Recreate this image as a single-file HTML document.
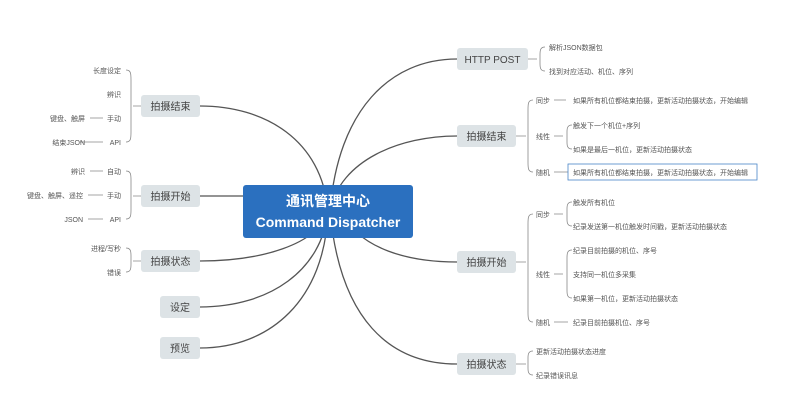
<!DOCTYPE html>
<html><head><meta charset="utf-8"><style>
body{margin:0;background:#fff;}
svg{display:block;font-family:"Liberation Sans","Noto Sans CJK SC",sans-serif;}
.s{font-size:7px;fill:#555;}
.n{font-size:10px;fill:#444;}
</style></head><body>
<svg width="799" height="417" viewBox="0 0 799 417">
<g fill="none" stroke="#555" stroke-width="1.3">
<path d="M328,211 C322,140 265,106 200,106"/>
<path d="M243,196 L200,196"/>
<path d="M328,211 C318,245 260,261 200,261"/>
<path d="M328,211 C322,270 270,307 200,307"/>
<path d="M328,211 C325,300 270,348 200,348"/>
<path d="M330,211 C338,110 390,59 457,59"/>
<path d="M330,211 C340,160 400,136 457,136"/>
<path d="M340,211 C360,250 410,262 457,262"/>
<path d="M330,211 C340,320 390,364 457,364"/>
</g>
<g fill="none" stroke="#888" stroke-width="0.8">
<path d="M141,106 H133 M126,70 C131,70 131,74 131,80 V132 C131,138 131,142 126,142"/>
<path d="M141,196 H133 M126,171 C131,171 131,175 131,180 V210 C131,215 131,219 126,219"/>
<path d="M141,261 H133 M126,248 C131,248 131,252 131,256 V264 C131,268 131,272 126,272"/>
<path d="M90,118 H103 M80,142 H103 M90,171 H103 M88,195 H103 M88,219 H103"/>
<path d="M528,59 H537 M545,47 C540,47 540,51 540,55 V63 C540,67 540,71 545,71"/>
<path d="M516,136 H526 M533,100 C528,100 528,104 528,110 V162 C528,168 528,172 533,172"/>
<path d="M554,100 H566 M554,136 H563 M572,125 C567,125 567,129 567,132 V142 C567,145 567,149 572,149 M554,172 H568"/>
<path d="M516,262 H526 M533,214 C528,214 528,218 528,224 V312 C528,318 528,322 533,322"/>
<path d="M554,214 H563 M572,202 C567,202 567,206 567,209 V219 C567,222 567,226 572,226"/>
<path d="M554,274 H563 M572,250 C567,250 567,254 567,258 V290 C567,294 567,298 572,298 M554,322 H568"/>
<path d="M516,364 H526 M533,351 C528,351 528,355 528,358 V368 C528,371 528,375 533,375"/>
</g>
<rect x="243" y="185" width="170" height="53" rx="3" fill="#2b70bf"/>
<text x="328" y="206" text-anchor="middle" font-size="14" font-weight="bold" fill="#fff">通讯管理中心</text>
<text x="328" y="227" text-anchor="middle" font-size="14" font-weight="bold" fill="#fff">Command Dispatcher</text>
<g fill="#dde3e6">
<rect x="141" y="95" width="59" height="22" rx="3"/>
<rect x="141" y="185" width="59" height="22" rx="3"/>
<rect x="141" y="250" width="59" height="22" rx="3"/>
<rect x="160" y="296" width="40" height="22" rx="3"/>
<rect x="160" y="337" width="40" height="22" rx="3"/>
<rect x="457" y="48" width="71" height="22" rx="3"/>
<rect x="457" y="125" width="59" height="22" rx="3"/>
<rect x="457" y="251" width="59" height="22" rx="3"/>
<rect x="457" y="353" width="59" height="22" rx="3"/>
</g>
<g class="n" text-anchor="middle">
<text x="170.5" y="110">拍摄结束</text>
<text x="170.5" y="200">拍摄开始</text>
<text x="170.5" y="265">拍摄状态</text>
<text x="180" y="311">设定</text>
<text x="180" y="352">预览</text>
<text x="492.5" y="63">HTTP POST</text>
<text x="486.5" y="140">拍摄结束</text>
<text x="486.5" y="266">拍摄开始</text>
<text x="486.5" y="368">拍摄状态</text>
</g>
<g class="s" text-anchor="end">
<text x="121" y="73">长度设定</text>
<text x="121" y="97">辨识</text>
<text x="121" y="121">手动</text>
<text x="121" y="145">API</text>
<text x="85" y="121">键盘、触屏</text>
<text x="85" y="145">结束JSON</text>
<text x="121" y="174">自动</text>
<text x="121" y="198">手动</text>
<text x="121" y="222">API</text>
<text x="85" y="174">辨识</text>
<text x="83" y="198">键盘、触屏、遥控</text>
<text x="83" y="222">JSON</text>
<text x="121" y="251">进程/写秒</text>
<text x="121" y="275">错误</text>
</g>
<g class="s">
<text x="549" y="50">解析JSON数据包</text>
<text x="549" y="74">找到对应活动、机位、序列</text>
<text x="536" y="103">同步</text>
<text x="536" y="139">线性</text>
<text x="536" y="175">随机</text>
<text x="573" y="103">如果所有机位都结束拍摄，更新活动拍摄状态，开始编辑</text>
<text x="573" y="128">触发下一个机位+序列</text>
<text x="573" y="152">如果是最后一机位，更新活动拍摄状态</text>
<rect x="568" y="164" width="189" height="16" fill="none" stroke="#4a86c8" stroke-width="0.8"/>
<text x="573" y="175">如果所有机位都结束拍摄，更新活动拍摄状态，开始编辑</text>
<text x="536" y="217">同步</text>
<text x="536" y="277">线性</text>
<text x="536" y="325">随机</text>
<text x="573" y="205">触发所有机位</text>
<text x="573" y="229">纪录发送第一机位触发时间戳，更新活动拍摄状态</text>
<text x="573" y="253">纪录目前拍摄的机位、序号</text>
<text x="573" y="277">支持同一机位多采集</text>
<text x="573" y="301">如果第一机位，更新活动拍摄状态</text>
<text x="573" y="325">纪录目前拍摄机位、序号</text>
<text x="536" y="354">更新活动拍摄状态进度</text>
<text x="536" y="378">纪录错误讯息</text>
</g>
</svg>
</body></html>
